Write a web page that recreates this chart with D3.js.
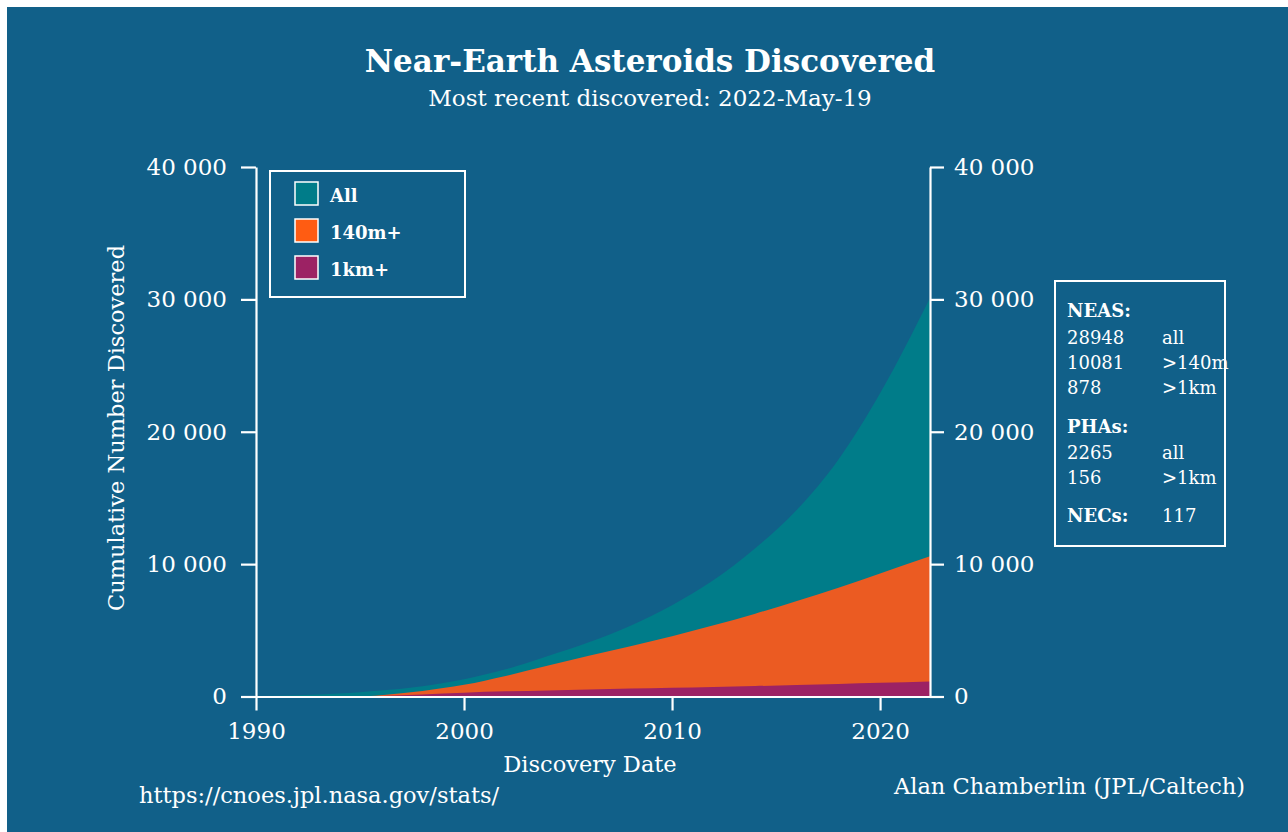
<!DOCTYPE html>
<html>
<head>
<meta charset="utf-8">
<script src="https://cdn.jsdelivr.net/npm/d3@7"></script>
<style>
body { margin: 0; background: #fff; }
text { font-family: "DejaVu Serif", serif; fill: #fff; }
</style>
</head>
<body>
<div id="chart"></div>
<script>
// data (cumulative counts)
var anos = [1990, 1992, 1994, 1995, 1996, 1998, 2000, 2002, 2004, 2006, 2008, 2010, 2012, 2014, 2016, 2018, 2020, 2022.4];
var todos = [30, 100, 230, 330, 450, 780, 1300, 2050, 3050, 4100, 5350, 6900, 8800, 11200, 14100, 17900, 22900, 30100];
var m140 = [0, 0, 0, 0, 100, 420, 880, 1550, 2320, 3070, 3800, 4560, 5380, 6260, 7220, 8220, 9300, 10600];
var km1 = [0, 0, 0, 0, 40, 160, 290, 390, 460, 530, 600, 660, 720, 790, 860, 940, 1030, 1130];

var yTicks = [0, 10000, 20000, 30000, 40000];
var xTicks = [1990, 2000, 2010, 2020];

var legenda = [{"nome": "All", "cor": "#007c89"},
			   {"nome": "140m+", "cor": "#ff5c12"},
			   {"nome": "1km+", "cor": "#9c2264"}];

var infoLinhas = [["NEAS:", "", true, 317], ["28948", "all", false, 344], ["10081", ">140m", false, 369],
				  ["878", ">1km", false, 394], ["PHAs:", "", true, 433], ["2265", "all", false, 459],
				  ["156", ">1km", false, 484], ["NECs:", "117", true, 522]];

var width = 1288;
var height = 832;
var fundo = "#116089";

var svg = d3.select("#chart").append("svg")
		.attr("width", width)
		.attr("height", height);

svg.append("rect")
	.attr("x", 7)
	.attr("y", 7)
	.attr("width", width - 7)
	.attr("height", height - 7)
	.style("fill", fundo);

var x = d3.scaleLinear().domain([1990, 2022.4]).range([256, 930]);
var y = d3.scaleLinear().domain([0, 40000]).range([696.5, 167]);

var loc = d3.formatLocale({"decimal": ".", "thousands": " ", "grouping": [3], "currency": ["", ""]});
var fmt = loc.format(",");

function desenhaArea(valores, cor){
	var area = d3.area()
		.x(function(d, i){ return x(anos[i]); })
		.y0(y(0))
		.y1(function(d){ return y(d); })
		.curve(d3.curveMonotoneX);
	svg.append("path")
		.datum(valores)
		.attr("d", area)
		.style("fill", cor);
}

desenhaArea(todos, "#007c89");
desenhaArea(m140, "#eb5b22");
desenhaArea(km1, "#9c2264");

// axes
var eixoY = svg.append("g")
	.attr("transform", "translate(256,0)")
	.call(d3.axisLeft(y).tickValues(yTicks).tickFormat(fmt).tickSize(15).tickSizeOuter(0).tickPadding(14));

var eixoY2 = svg.append("g")
	.attr("transform", "translate(930,0)")
	.call(d3.axisRight(y).tickValues(yTicks).tickFormat(fmt).tickSize(14).tickSizeOuter(0).tickPadding(10));

var eixoX = svg.append("g")
	.attr("transform", "translate(0,696.5)")
	.call(d3.axisBottom(x).tickValues(xTicks).tickFormat(d3.format("d")).tickSize(14).tickSizeOuter(0).tickPadding(12));

[eixoY, eixoY2, eixoX].forEach(function(g){
	g.selectAll("path, line").style("stroke", "#fff").style("stroke-width", 2.2);
	g.selectAll("text")
		.style("fill", "#fff")
		.attr("font-family", "DejaVu Serif")
		.attr("font-size", "23px");
});

// titles
svg.append("text")
	.attr("x", 650)
	.attr("y", 72)
	.attr("text-anchor", "middle")
	.attr("font-size", "31px")
	.attr("font-weight", "bold")
	.text("Near-Earth Asteroids Discovered");

svg.append("text")
	.attr("x", 650)
	.attr("y", 106)
	.attr("text-anchor", "middle")
	.attr("font-size", "23px")
	.text("Most recent discovered: 2022-May-19");

svg.append("text")
	.attr("transform", "translate(124,428) rotate(-90)")
	.attr("text-anchor", "middle")
	.attr("font-size", "22.5px")
	.text("Cumulative Number Discovered");

svg.append("text")
	.attr("x", 590)
	.attr("y", 772)
	.attr("text-anchor", "middle")
	.attr("font-size", "22.5px")
	.text("Discovery Date");

svg.append("text")
	.attr("x", 139)
	.attr("y", 803)
	.attr("font-size", "22.5px")
	.text("https://cnoes.jpl.nasa.gov/stats/");

svg.append("text")
	.attr("x", 1245)
	.attr("y", 794)
	.attr("text-anchor", "end")
	.attr("font-size", "22.5px")
	.text("Alan Chamberlin (JPL/Caltech)");

// legend
svg.append("rect")
	.attr("x", 270)
	.attr("y", 171)
	.attr("width", 195)
	.attr("height", 126)
	.style("stroke", "#fff")
	.style("stroke-width", 2)
	.style("fill", "none");

var itens = svg.selectAll(".leg")
	.data(legenda)
	.enter()
	.append("g")
	.attr("class", "leg")
	.attr("transform", function(d, i){ return "translate(295," + (182 + i * 37) + ")"; });

itens.append("rect")
	.attr("width", 23)
	.attr("height", 23)
	.style("fill", function(d){ return d.cor; })
	.style("stroke", "#fff")
	.style("stroke-width", 1.5);

itens.append("text")
	.attr("x", 35)
	.attr("y", 20)
	.attr("font-size", "18px")
	.attr("font-weight", "bold")
	.text(function(d){ return d.nome; });

// info box
svg.append("rect")
	.attr("x", 1055)
	.attr("y", 281)
	.attr("width", 170)
	.attr("height", 265)
	.style("stroke", "#fff")
	.style("stroke-width", 2)
	.style("fill", "none");

var linhas = svg.selectAll(".info")
	.data(infoLinhas)
	.enter()
	.append("g")
	.attr("class", "info");

linhas.append("text")
	.attr("x", 1067)
	.attr("y", function(d){ return d[3]; })
	.attr("font-size", "18px")
	.attr("font-weight", function(d){ return d[2] ? "bold" : "normal"; })
	.text(function(d){ return d[0]; });

linhas.append("text")
	.attr("x", 1162)
	.attr("y", function(d){ return d[3]; })
	.attr("font-size", "18px")
	.text(function(d){ return d[1]; });
</script>
</body>
</html>
